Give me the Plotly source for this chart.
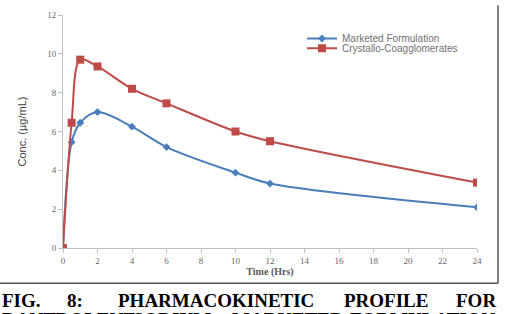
import plotly.graph_objects as go

time_hrs = [0, 0.5, 1, 2, 4, 6, 10, 12, 24]
marketed = [0, 5.45, 6.45, 7.0, 6.25, 5.2, 3.88, 3.32, 2.1]
crystallo = [0, 6.45, 9.7, 9.35, 8.2, 7.45, 6.0, 5.5, 3.37]
x_ticks = list(range(0, 25, 2))
y_ticks = list(range(0, 13, 2))

W, H = 506, 314
L, R, T, B = 63, 29, 10, 66
pw, ph = W - L - R, H - T - B


def px(x):
    return (x - L) / pw


def py(y):
    return (H - B - y) / ph


fig = go.Figure()
fig.add_trace(go.Scatter(
    x=time_hrs, y=marketed, name="Marketed Formulation", legend="legend", showlegend=True,
    mode="lines+markers", line=dict(color="#4a7ebb", width=2, shape="spline", smoothing=0.9),
    marker=dict(symbol="diamond", size=6, color="#4a7ebb")))
fig.add_trace(go.Scatter(
    x=time_hrs, y=crystallo, name="Crystallo-Coagglomerates", legend="legend2", showlegend=True,
    mode="lines+markers", line=dict(color="#be4b48", width=2, shape="spline", smoothing=0.9),
    marker=dict(symbol="square", size=8, color="#be4b48")))

axis_common = dict(showgrid=False, zeroline=False, showline=True, linecolor="#c0c0c0",
                   linewidth=1, ticks="outside", tickcolor="#c0c0c0", ticklen=4,
                   tickfont=dict(family="Liberation Serif", size=9, color="#666666"))
fig.update_xaxes(range=[0, 24], tickvals=x_ticks, **axis_common,
                 title=dict(text="<b>Time (Hrs)</b>", standoff=2,
                            font=dict(family="Liberation Serif", size=10, color="#595959")))
fig.update_yaxes(range=[0, 12], tickvals=y_ticks, **axis_common,
                 title=dict(text="Conc. (µg/mL)", standoff=18,
                            font=dict(family="Liberation Sans Narrow, Liberation Sans", size=11, color="#404040")))

shapes = [
    dict(type="line", xref="paper", yref="paper", x0=px(498), x1=px(498), y0=py(0), y1=py(284),
         line=dict(color="#555555", width=1.5)),
    dict(type="line", xref="paper", yref="paper", x0=px(0), x1=px(498), y0=py(284), y1=py(284),
         line=dict(color="#555555", width=1.5)),
]

cap_font = dict(family="Liberation Serif", size=19, color="#000000")
line1 = [("FIG.", 0, "left"), ("8:", 75, "center"), ("PHARMACOKINETIC", 216, "center"),
         ("PROFILE", 386, "center"), ("FOR", 498, "right")]
line2 = [("DANTROLENE", 0, "left"), ("SODIUM", 172, "center"), ("MARKETED", 288, "center"),
         ("FORMULATION", 498, "right")]
annotations = []
for txt, xpos, anc in line1:
    annotations.append(dict(text="<b>%s</b>" % txt, xref="paper", yref="paper", x=px(xpos), y=py(289),
                            xanchor=anc, yanchor="top", showarrow=False, font=cap_font))
for txt, xpos, anc in line2:
    annotations.append(dict(text="<b>%s</b>" % txt, xref="paper", yref="paper", x=px(xpos), y=py(308),
                            xanchor=anc, yanchor="top", showarrow=False, font=cap_font))

leg_font = dict(family="Liberation Sans", size=10, color="#707070")
fig.update_layout(
    width=W, height=H, margin=dict(l=L, r=R, t=T, b=B),
    paper_bgcolor="white", plot_bgcolor="white", showlegend=True,
    shapes=shapes, annotations=annotations,
    legend=dict(x=px(302), y=py(34), xanchor="left", yanchor="middle", bgcolor="rgba(0,0,0,0)",
                font=leg_font, itemwidth=30, visible=True),
    legend2=dict(x=px(302), y=py(44), xanchor="left", yanchor="middle", bgcolor="rgba(0,0,0,0)",
                 font=leg_font, itemwidth=30, visible=True),
)

fig.write_html("out.html")
